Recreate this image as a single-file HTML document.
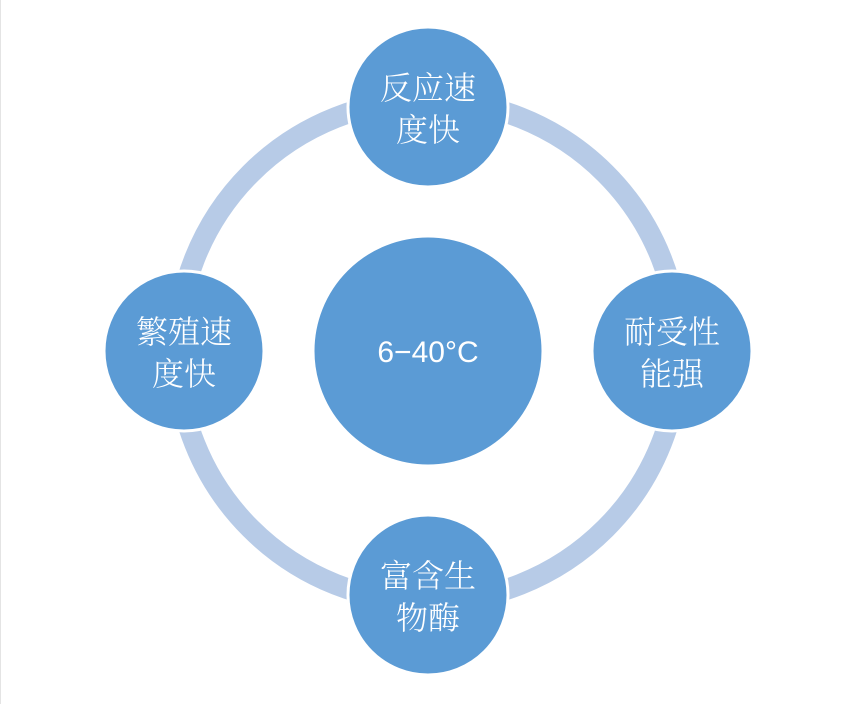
<!DOCTYPE html>
<html><head><meta charset="utf-8"><style>
html,body{margin:0;padding:0;background:#fff;}
body{width:856px;height:704px;overflow:hidden;position:relative;}
.edge{position:absolute;left:0;top:0;width:1px;height:704px;background:#e4e4e4;}
svg{position:absolute;left:0;top:0;}
.t{font-family:"Noto Serif CJK SC","Liberation Serif",serif;font-size:32px;fill:#fff;text-anchor:middle;font-weight:300;}
.c{font-family:"Liberation Sans","Noto Sans CJK SC",sans-serif;font-size:30px;fill:#fff;text-anchor:middle;}
</style></head><body>
<div class="edge"></div>
<svg width="856" height="704" viewBox="0 0 856 704">
<circle cx="428" cy="351" r="251" fill="none" stroke="#b7cbe7" stroke-width="21"/>
<g fill="#5b9bd5" stroke="#fff" stroke-width="3">
<circle cx="428" cy="351" r="115"/>
<circle cx="428" cy="107" r="80"/>
<circle cx="672" cy="351" r="80"/>
<circle cx="184" cy="351" r="80"/>
<circle cx="428" cy="595" r="80"/>
</g>
<text class="c" x="428" y="362">6−40°C</text>
<text class="t" x="428" y="99">反应速</text><text class="t" x="428" y="141">度快</text>
<text class="t" x="672" y="343">耐受性</text><text class="t" x="672" y="385">能强</text>
<text class="t" x="184" y="343">繁殖速</text><text class="t" x="184" y="385">度快</text>
<text class="t" x="428" y="587">富含生</text><text class="t" x="428" y="629">物酶</text>
</svg>
</body></html>
